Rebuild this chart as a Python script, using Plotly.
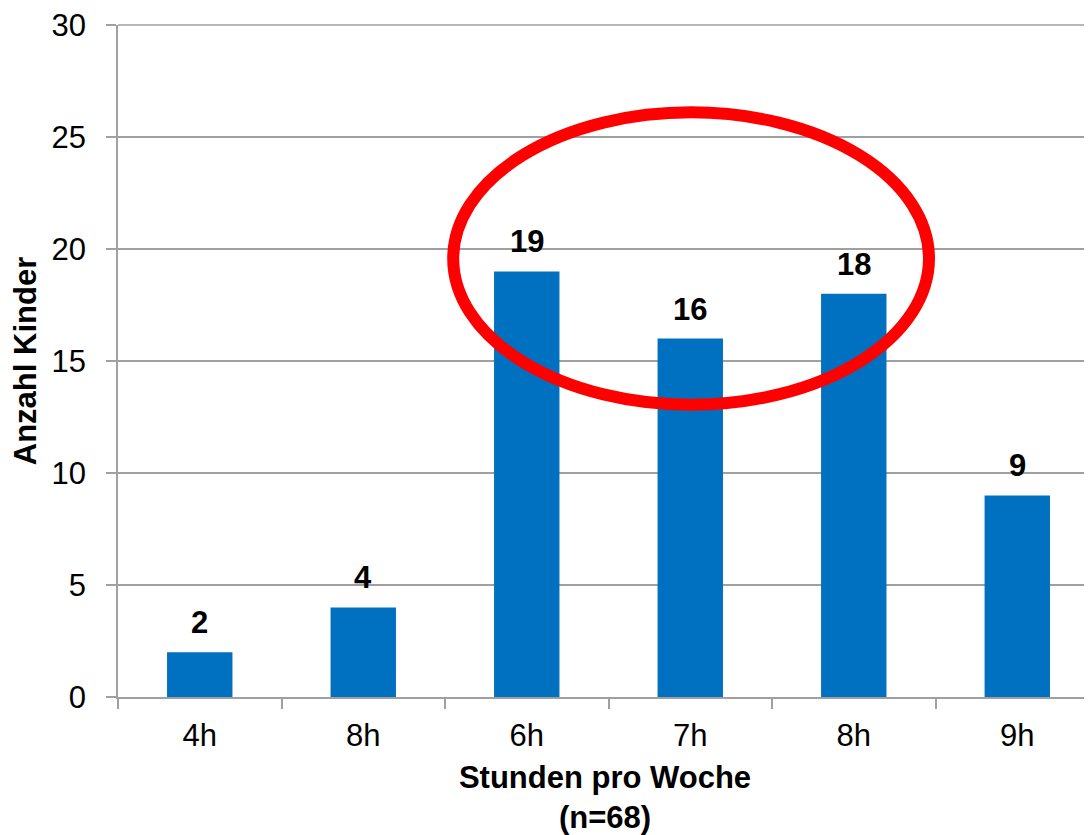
import plotly.graph_objects as go

# Chart data
categories = ["4h", "8h", "6h", "7h", "8h", "9h"]
counts = [2, 4, 19, 16, 18, 9]
y_ticks = [0, 5, 10, 15, 20, 25, 30]

BLUE = "#0070C0"
GRID = "#A0A0A0"
RED = "#FF0000"
FONT = "Liberation Sans, Arial, sans-serif"

# "8h" appears twice, so give every bar its own key and show the label as ticktext
keys = [f"c{i}" for i in range(len(categories))]

fig = go.Figure(
    go.Bar(
        x=keys,
        y=counts,
        width=0.4,
        marker=dict(color=BLUE, line=dict(width=0)),
        hoverinfo="y",
    )
)

# Bold value labels above bars
for k, v in zip(keys, counts):
    fig.add_annotation(
        x=k,
        y=v,
        text=f"<b>{v}</b>",
        showarrow=False,
        yanchor="bottom",
        yshift=10,
        font=dict(size=31, color="black", family=FONT),
    )

# plotly drops the gridline sitting on the top edge, so draw it by hand
# (paper refs so it isn't clipped by the plot area)
fig.add_shape(
    type="line",
    xref="paper",
    yref="paper",
    x0=0,
    x1=1,
    y0=1,
    y1=1,
    line=dict(color=GRID, width=1.5),
    layer="above",
)

# Red highlight ellipse around the three big bars
fig.add_shape(
    type="circle",
    xref="x",
    yref="y",
    x0=1.55,
    x1=4.46,
    y0=13.05,
    y1=26.1,
    line=dict(color=RED, width=12),
    layer="above",
)

fig.update_xaxes(
    type="category",
    tickmode="array",
    tickvals=keys,
    ticktext=categories,
    tickson="boundaries",
    ticks="outside",
    ticklen=10,
    tickwidth=1.5,
    tickcolor=GRID,
    showline=True,
    linecolor=GRID,
    linewidth=1.5,
    range=[-0.5, 5.457],
    ticklabelstandoff=10,
    tickfont=dict(size=31, color="black", family=FONT),
    title=dict(
        text="<b>Stunden pro Woche<br>(n=68)</b>",
        font=dict(size=31, color="black", family=FONT),
        standoff=16,
    ),
    showgrid=False,
)
fig.update_yaxes(
    range=[y_ticks[0], y_ticks[-1]],
    tickmode="array",
    tickvals=y_ticks,
    ticks="outside",
    ticklen=10,
    tickwidth=1.5,
    tickcolor=GRID,
    showline=True,
    linecolor=GRID,
    linewidth=1.5,
    showgrid=True,
    gridcolor=GRID,
    gridwidth=1.5,
    zeroline=False,
    ticklabelstandoff=14,
    ticklabeloverflow="allow",
    tickfont=dict(size=31, color="black", family=FONT),
    title=dict(
        text="<b>Anzahl Kinder</b>",
        font=dict(size=31, color="black", family=FONT),
        standoff=10,
    ),
)
# page body has an 8px offset, so the figure is sized to fit inside the window
fig.update_layout(
    width=1084,
    height=827,
    margin=dict(l=110, r=0, t=14, b=138),
    plot_bgcolor="white",
    paper_bgcolor="white",
    showlegend=False,
    font=dict(family=FONT, color="black"),
    bargap=0.6,
)

fig.write_html("out.html")
